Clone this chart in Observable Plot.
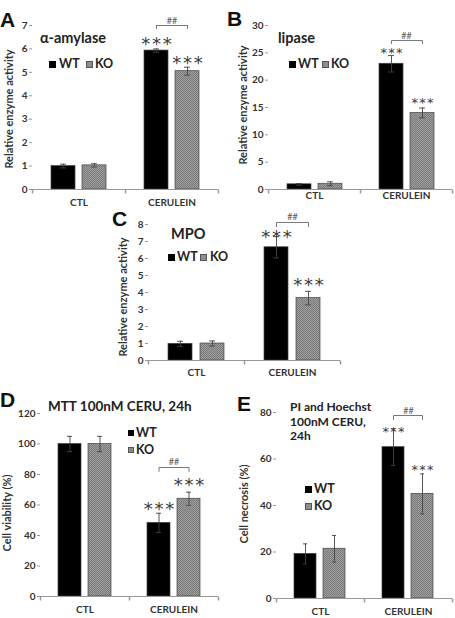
<!DOCTYPE html>
<html><head><meta charset="utf-8">
<script src="https://cdn.jsdelivr.net/npm/d3@7"></script>
<script src="https://cdn.jsdelivr.net/npm/@observablehq/plot@0.6"></script>
<style>
html,body{margin:0;padding:0;background:#fff;}
#root{position:relative;width:455px;height:618px;overflow:hidden;background:#fff;font-family:Lato,"Open Sans",sans-serif;color:#222;}
.abs{position:absolute;white-space:nowrap;line-height:1;}
.letter{font-family:"Liberation Sans",Arial,sans-serif;font-weight:bold;font-size:21px;color:#111;}
.ttl{font-weight:bold;color:#222;}
.ylab{font-weight:bold;font-size:11px;color:#333;transform:translate(-50%,-50%) rotate(-90deg);}
.sq{position:absolute;}
.leg{font-weight:bold;font-size:12.5px;color:#222;}
svg{overflow:visible;}
</style></head><body>
<svg width="0" height="0" style="position:absolute">
  <defs>
    <pattern id="stipple" width="2" height="2" patternUnits="userSpaceOnUse">
      <rect width="2" height="2" fill="#9c9c9c"></rect>
      <rect width="1" height="1" fill="#7c7c7c"></rect>
      <rect x="1" y="1" width="1" height="1" fill="#7c7c7c"></rect>
    </pattern>
  </defs>
</svg>
<div id="root"></div>
<script>
// ---- data ----
const categories = ["CTL", "CERULEIN"];
const genotypes = ["WT", "KO"];
const genotypeColors = ["#000000", "#8d8d8d"];
const genotypeFills = ["#000000", "url(#stipple)"];

// A: alpha-amylase
const amylaseWT = [1.00, 5.93];
const amylaseWTerr = [0.08, 0.07];
const amylaseKO = [1.03, 5.05];
const amylaseKOerr = [0.07, 0.17];
const amylaseTicks = [0, 1, 2, 3, 4, 5, 6, 7];
const amylaseBracket = [6.87, 7.0];

// B: lipase
const lipaseWT = [0.95, 23.0];
const lipaseWTerr = [0.15, 1.5];
const lipaseKO = [1.05, 14.0];
const lipaseKOerr = [0.35, 0.9];
const lipaseTicks = [0, 5, 10, 15, 20, 25, 30];
const lipaseBracket = [26.7, 27.25];

// C: MPO
const mpoWT = [0.98, 6.66];
const mpoWTerr = [0.15, 0.63];
const mpoKO = [1.00, 3.67];
const mpoKOerr = [0.15, 0.40];
const mpoTicks = [0, 1, 2, 3, 4, 5, 6, 7, 8];
const mpoBracket = [7.88, 8.12];

// D: MTT cell viability
const viabilityWT = [100, 48.3];
const viabilityWTerr = [5, 6.3];
const viabilityKO = [100, 64.1];
const viabilityKOerr = [5, 4.3];
const viabilityTicks = [0, 20, 40, 60, 80, 100, 120];
const viabilityBracket = [82.0, 84.6];

// E: PI / Hoechst necrosis
const necrosisWT = [19.2, 65.1];
const necrosisWTerr = [4.3, 7.9];
const necrosisKO = [21.4, 45.0];
const necrosisKOerr = [5.7, 8.6];
const necrosisTicks = [0, 20, 40, 60, 80];
const necrosisBracket = [77.0, 78.7];

const starText = "*\u200A*\u200A*";
const hashText = "##";
const starredCategory = "CERULEIN";

function rows(wt, wtErr, ko, koErr) {
  const out = [];
  categories.forEach((c, i) => {
    out.push({cat: c, geno: "WT", v: wt[i], e: wtErr[i]});
    out.push({cat: c, geno: "KO", v: ko[i], e: koErr[i]});
  });
  return out;
}

const tickSymbol = {draw(context) { context.moveTo(0, 0); context.lineTo(0, 4); }};

const root = document.getElementById("root");

function panel(cfg) {
  const data = rows(...cfg.series);
  const starred = data.filter(d => d.cat === starredCategory);
  const [foot, top] = cfg.bracket;
  const bracketPts = [
    {cat: starredCategory, geno: "WT", y: foot},
    {cat: starredCategory, geno: "WT", y: top},
    {cat: starredCategory, geno: "KO", y: top},
    {cat: starredCategory, geno: "KO", y: foot}
  ];
  const plot = Plot.plot({
    width: cfg.width, height: cfg.height,
    marginLeft: cfg.ml, marginRight: cfg.mr, marginTop: cfg.mt, marginBottom: cfg.mb,
    style: {fontFamily: "Lato, sans-serif", color: "#333", background: "none", overflow: "visible"},
    fx: {domain: categories, padding: 0},
    x: {domain: genotypes, paddingInner: 0.24, paddingOuter: 0.6, axis: null},
    y: {domain: [0, cfg.ticks[cfg.ticks.length - 1]]},
    color: {domain: genotypes, range: genotypeFills},
    marks: [
      Plot.barY(data, {fx: "cat", x: "geno", y: "v", fill: "geno", stroke: "#444", strokeWidth: 0.7}),
      Plot.ruleX(data, {fx: "cat", x: "geno", y1: d => d.v - d.e, y2: d => d.v + d.e, stroke: "#444", strokeWidth: 0.9}),
      Plot.tickY(data, {fx: "cat", x: "geno", y: d => d.v + d.e, stroke: "#444", strokeWidth: 0.9, insetLeft: 9, insetRight: 9}),
      Plot.tickY(data, {fx: "cat", x: "geno", y: d => d.v - d.e, stroke: "#444", strokeWidth: 0.9, insetLeft: 9, insetRight: 9}),
      Plot.ruleY([0], {stroke: "#999"}),
      Plot.dot(categories, {fx: d => d, frameAnchor: "bottom-left", symbol: tickSymbol, stroke: "#999", fill: "none"}),
      Plot.dot([starredCategory], {fx: d => d, frameAnchor: "bottom-right", symbol: tickSymbol, stroke: "#999", fill: "none"}),
      Plot.axisY({ticks: cfg.ticks, tickFormat: d => String(d), tickSize: 3, tickPadding: 2, label: null, line: true, stroke: "#999", fill: "#333", fontSize: 10, fontWeight: "bold"}),
      Plot.axisFx({anchor: "bottom", tickSize: 0, tickPadding: cfg.xpad, label: null, fontSize: 10, fontWeight: "bold", fill: "#333"}),
      Plot.text(starred.filter(d => d.geno === "WT"), {fx: "cat", x: "geno", y: d => d.v + d.e, text: () => starText, fontFamily: "DejaVu Sans", fontSize: cfg.starSize, fill: "#3a3a3a", dy: cfg.starDy[0]}),
      Plot.text(starred.filter(d => d.geno === "KO"), {fx: "cat", x: "geno", y: d => d.v + d.e, text: () => starText, fontFamily: "DejaVu Sans", fontSize: cfg.starSize, fill: "#3a3a3a", dy: cfg.starDy[1]}),
      Plot.line(bracketPts, {fx: "cat", x: "geno", y: "y", stroke: "#666", strokeWidth: 0.9}),
      Plot.text([{cat: starredCategory}], {fx: "cat", y: () => top, text: () => hashText, lineAnchor: "bottom", dy: -2, fontSize: 9, fill: "#555"})
    ]
  });
  plot.style.position = "absolute";
  plot.style.left = cfg.left + "px";
  plot.style.top = cfg.top + "px";
  root.appendChild(plot);
}

function html(tag, cls, text, style) {
  const el = document.createElement(tag);
  el.className = cls;
  if (text != null) el.textContent = text;
  Object.assign(el.style, style);
  root.appendChild(el);
  return el;
}
function legend(size, entries) {
  entries.forEach(([name, lx, ly, tx]) => {
    const i = genotypes.indexOf(name);
    html("div", "sq", null, {left: lx + "px", top: ly + "px", width: size + "px", height: size + "px", background: genotypeColors[i], boxSizing: "border-box", border: i ? "0.7px solid #555" : "none"});
    html("div", "abs leg", name, {left: tx + "px", top: (ly + size / 2 - 6.5) + "px"});
  });
}

// Panel A
panel({series: [amylaseWT, amylaseWTerr, amylaseKO, amylaseKOerr], ticks: amylaseTicks, bracket: amylaseBracket,
  left: 2, top: 5, width: 222, height: 208, ml: 30, mr: 6, mt: 20, mb: 24, xpad: 9.5, starSize: 18, starDy: [-4.6, -3.6]});
// Panel B
panel({series: [lipaseWT, lipaseWTerr, lipaseKO, lipaseKOerr], ticks: lipaseTicks, bracket: lipaseBracket,
  left: 238, top: 5, width: 217, height: 208, ml: 30, mr: 3, mt: 20, mb: 24, xpad: 2.5, starSize: 13, starDy: [-3.1, -5.1]});
// Panel C
panel({series: [mpoWT, mpoWTerr, mpoKO, mpoKOerr], ticks: mpoTicks, bracket: mpoBracket,
  left: 118, top: 204, width: 227, height: 178, ml: 30, mr: 5, mt: 20, mb: 22, xpad: 8, starSize: 18, starDy: [0.4, -5.6]});
// Panel D
panel({series: [viabilityWT, viabilityWTerr, viabilityKO, viabilityKOerr], ticks: viabilityTicks, bracket: viabilityBracket,
  left: 9, top: 393, width: 214, height: 225, ml: 30, mr: 5, mt: 20, mb: 22, xpad: 9.5, starSize: 18, starDy: [-3.6, -6.6]});
// Panel E
panel({series: [necrosisWT, necrosisWTerr, necrosisKO, necrosisKOerr], ticks: necrosisTicks, bracket: necrosisBracket,
  left: 245, top: 392, width: 210, height: 226, ml: 30, mr: 3, mt: 20, mb: 20, xpad: 9.5, starSize: 13, starDy: [2.9, -4.1]});

// panel letters
html("div", "abs letter", "A", {left: "0px", top: "9px"});
html("div", "abs letter", "B", {left: "227px", top: "8px"});
html("div", "abs letter", "C", {left: "112px", top: "208px"});
html("div", "abs letter", "D", {left: "0px", top: "389px"});
html("div", "abs letter", "E", {left: "237px", top: "393px"});

// titles
html("div", "abs ttl", "α-amylase", {left: "40px", top: "31px", fontSize: "14.5px"});
html("div", "abs ttl", "lipase", {left: "278px", top: "31px", fontSize: "14.5px"});
html("div", "abs ttl", "MPO", {left: "171px", top: "227px", fontSize: "14.5px"});
html("div", "abs ttl", "MTT 100nM CERU, 24h", {left: "48px", top: "400px", fontSize: "13.5px"});
const eTitle = html("div", "abs ttl", null, {left: "290px", top: "400px", fontSize: "12px", lineHeight: "14.5px"});
eTitle.innerHTML = "PI and Hoechst<br>100nM CERU,<br>24h";

// y labels
html("div", "abs ylab", "Relative enzyme activity", {left: "8px", top: "109px"});
html("div", "abs ylab", "Relative enzyme activity", {left: "242px", top: "105px"});
html("div", "abs ylab", "Relative enzyme activity", {left: "122px", top: "297px"});
html("div", "abs ylab", "Cell viability (%)", {left: "6px", top: "513px"});
html("div", "abs ylab", "Cell necrosis (%)", {left: "243px", top: "504px"});

// legends
legend(7, [["WT", 49, 61, 59], ["KO", 86, 61, 95]]);
legend(7, [["WT", 289, 61, 298], ["KO", 322, 61, 331]]);
legend(7, [["WT", 168, 254, 177], ["KO", 200, 254, 210]]);
legend(6, [["WT", 128, 430, 136], ["KO", 128, 447, 136]]);
legend(7, [["WT", 305, 486, 314], ["KO", 305, 503, 314]]);
</script></body></html>
